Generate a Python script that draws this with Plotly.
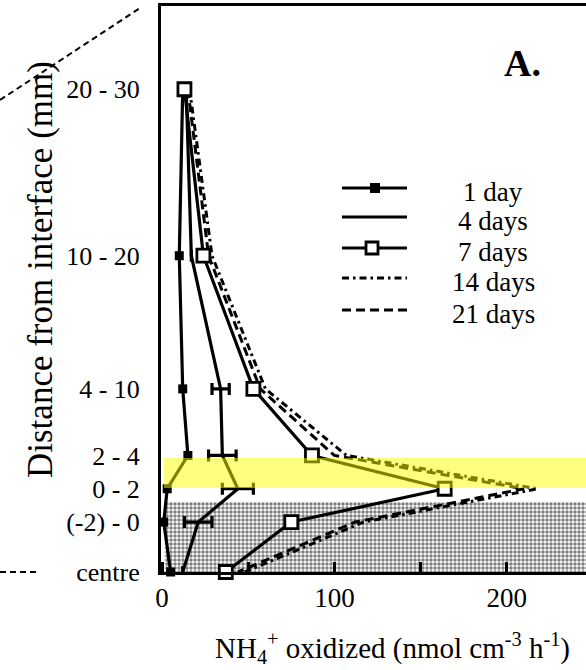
import plotly.graph_objects as go

# Depth classes (mm from the interface) and their plotting positions
depth_labels = ["20 - 30", "10 - 20", "4 - 10", "2 - 4", "0 - 2", "(-2) - 0", "centre"]
depth_pos = [25, 15, 7, 3, 1, -1, -4]

# NH4+ oxidation rates (nmol cm-3 h-1) per incubation time
day1 = [12, 10, 12, 15, 3, 1, 5]
day4 = [14, 17, 34, 35, 44, 21, 12]
day4_err = [None, None, 5, 8, 9, 8, None]
day7 = [13, 24, 53, 87, 164, 75, 37]
day14 = [16, 29, 60, 107, 218, 117, 48]
day21 = [15, 27, 57, 100, 210, 112, 44]

x_ticks = [0, 100, 200]
x_ticktext = ["0", "100", "200"]

# Highlighted zones (depth units)
oxic_band = (1.05, 2.85)
core_zone = (-4, 0.2)
core_x = (1.5, 260)

FONT = "Liberation Serif"
W, H = 586, 670
ML, MR, MT, MB = 161, 0, 6, 98
PW, PH = W - ML - MR, H - MT - MB
LW = 3.2


def px_x(p):
    return (p - ML) / PW


def px_y(p):
    return (H - MB - p) / PH


fig = go.Figure()

# stippled core region
fig.add_trace(go.Scatter(
    x=[core_x[0], core_x[1], core_x[1], core_x[0], core_x[0]],
    y=[core_zone[0], core_zone[0], core_zone[1], core_zone[1], core_zone[0]],
    mode="lines", fill="toself", line=dict(width=0),
    fillcolor="white",
    fillpattern=dict(shape=".", fgcolor="black", bgcolor="white", size=4, solidity=0.6),
    hoverinfo="skip", showlegend=False,
))

common = dict(mode="lines+markers", cliponaxis=False, showlegend=False)

fig.add_trace(go.Scatter(
    x=day21, y=depth_pos, name="21 days", mode="lines", cliponaxis=False, showlegend=False,
    line=dict(color="black", width=3, dash="9px,5px"),
))
fig.add_trace(go.Scatter(
    x=day14, y=depth_pos, name="14 days", mode="lines", cliponaxis=False, showlegend=False,
    line=dict(color="black", width=3, dash="7px,4px,2.5px,4px"),
))
fig.add_trace(go.Scatter(
    x=day4, y=depth_pos, name="4 days", mode="lines", cliponaxis=False, showlegend=False,
    line=dict(color="black", width=LW),
    error_x=dict(type="data", array=day4_err, color="black", thickness=LW, width=6),
))
fig.add_trace(go.Scatter(
    x=day1, y=depth_pos, name="1 day", **common,
    line=dict(color="black", width=LW),
    marker=dict(symbol="square", size=9, color="black"),
))
fig.add_trace(go.Scatter(
    x=day7, y=depth_pos, name="7 days", **common,
    line=dict(color="black", width=LW),
    marker=dict(symbol="square", size=13, color="white", line=dict(color="black", width=2.8)),
))

shapes = []

# yellow band drawn over the lines
shapes.append(dict(
    type="rect", xref="paper", yref="y", x0=px_x(164), x1=1.0,
    y0=oxic_band[0], y1=oxic_band[1], fillcolor="rgb(255,255,0)", opacity=0.5,
    line=dict(width=0), layer="above",
))

# dashed marks outside the frame
shapes.append(dict(type="line", xref="paper", yref="paper",
                   x0=px_x(0), y0=px_y(100), x1=px_x(140), y1=px_y(8),
                   line=dict(color="black", width=2, dash="6px,4px")))
shapes.append(dict(type="line", xref="paper", yref="paper",
                   x0=px_x(0), y0=px_y(572), x1=px_x(38), y1=px_y(572),
                   line=dict(color="black", width=2, dash="6px,4px")))

# legend
legend_rows = [
    ("1 day", 188, "solid", "filled"),
    ("4 days", 217, "solid", None),
    ("7 days", 248, "solid", "open"),
    ("14 days", 278, "7px,4px,2.5px,4px", None),
    ("21 days", 310, "9px,5px", None),
]
annotations = []
for label, ry, dash, mk in legend_rows:
    shapes.append(dict(type="line", xref="paper", yref="paper",
                       x0=px_x(342), x1=px_x(407), y0=px_y(ry), y1=px_y(ry),
                       line=dict(color="black", width=LW, dash=dash)))
    if mk == "filled":
        shapes.append(dict(type="rect", xref="paper", yref="paper",
                           x0=px_x(370), x1=px_x(380), y0=px_y(ry + 5), y1=px_y(ry - 5),
                           fillcolor="black", line=dict(width=0)))
    elif mk == "open":
        shapes.append(dict(type="rect", xref="paper", yref="paper",
                           x0=px_x(366), x1=px_x(378), y0=px_y(ry + 6), y1=px_y(ry - 6),
                           fillcolor="white", line=dict(color="black", width=2.8)))
    annotations.append(dict(
        xref="paper", yref="paper", x=px_x(493), y=px_y(ry + 4),
        text=label, showarrow=False, xanchor="center", yanchor="middle",
        font=dict(family=FONT, size=27, color="black"),
    ))

annotations.append(dict(
    xref="paper", yref="paper", x=px_x(522), y=px_y(63), text="<b>A.</b>",
    showarrow=False, xanchor="center", yanchor="middle",
    font=dict(family=FONT, size=38, color="black"),
))
annotations.append(dict(
    xref="paper", yref="paper", x=px_x(392), y=px_y(648),
    text="NH<sub>4</sub><sup>+</sup> oxidized (nmol cm<sup>-3</sup> h<sup>-1</sup>)",
    showarrow=False, xanchor="center", yanchor="middle",
    font=dict(family=FONT, size=29, color="black"),
))
annotations.append(dict(
    xref="paper", yref="paper", x=px_x(40), y=px_y(270),
    text="Distance from interface (mm)", textangle=-90,
    showarrow=False, xanchor="center", yanchor="middle",
    font=dict(family=FONT, size=35, color="black"),
))

fig.update_layout(
    width=W, height=H,
    margin=dict(l=ML, r=MR, t=MT, b=MB, pad=0),
    paper_bgcolor="white", plot_bgcolor="white",
    shapes=shapes, annotations=annotations,
    xaxis=dict(
        range=[-0.6, 246], showline=True, linewidth=3, linecolor="black", mirror=True,
        ticks="inside", ticklen=10, tickwidth=2.5, tickcolor="black",
        tickvals=x_ticks, ticktext=x_ticktext, showgrid=False, zeroline=False,
        minor=dict(tickvals=[50, 150], ticks="inside", ticklen=10, tickwidth=2.5,
                   tickcolor="black", showgrid=False),
        tickfont=dict(family=FONT, size=27, color="black"),
    ),
    yaxis=dict(
        range=[-4, 30], showline=True, linewidth=3, linecolor="black",
        ticks="", tickvals=depth_pos, ticktext=depth_labels,
        showgrid=False, zeroline=False, ticklabelstandoff=13,
        tickfont=dict(family=FONT, size=26, color="black"),
    ),
)

fig.write_html("out.html")
